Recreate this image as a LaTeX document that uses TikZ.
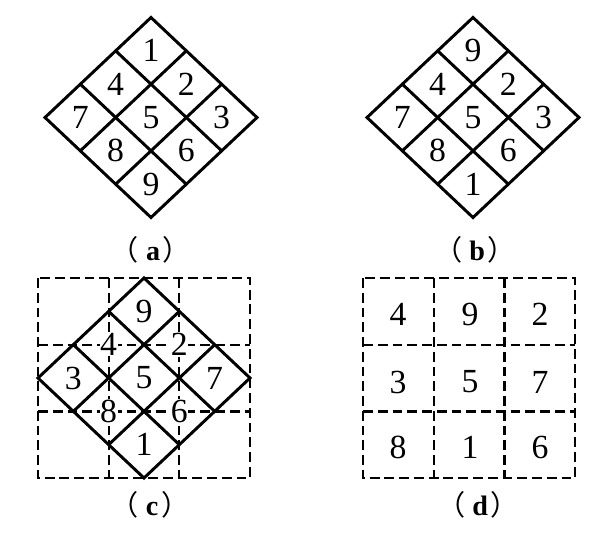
\documentclass[tikz,border=0pt]{standalone}
\usepackage{fontspec}
\setmainfont{Liberation Serif}
\newfontfamily\cjk{Noto Sans CJK SC}
\begin{document}
\begin{tikzpicture}[x=0.25mm, y=-0.25mm,
    solidline/.style={line width=2.1pt, line join=miter},
    dashline/.style={line width=1.7pt, dash pattern=on 7pt off 3.5pt},
    cell/.style={fill=white, inner sep=0.5pt, font=\fontsize{24}{28}\selectfont},
    caption/.style={font=\fontsize{20}{24}\selectfont\bfseries}]
    \useasboundingbox (0,0) rectangle (605,548);

    % dashed squares (c) and (d)
    \foreach \x in {38,363} {
        \draw [dashline] (\x,278) rectangle (\x+212,478);
        \draw [dashline] (\x+70.7,278) -- (\x+70.7,478);
        \draw [dashline] (\x+141.3,278) -- (\x+141.3,478);
        \draw [dashline] (\x,344.7) -- (\x+212,344.7);
        \draw [dashline] (\x,411.3) -- (\x+212,411.3);
    }

    % diamonds (a), (b) and (c)
    \foreach \cx/\cy in {151/117.5, 473/117.5, 144/378} {
        \draw [solidline] (\cx,\cy-100) -- (\cx+106,\cy) -- (\cx,\cy+100) -- (\cx-106,\cy) -- cycle;
        \foreach \k in {1,2} {
            \draw [solidline] (\cx-\k*106/3,\cy-100+\k*100/3) -- ++(106,100);
            \draw [solidline] (\cx+\k*106/3,\cy-100+\k*100/3) -- ++(-106,100);
        }
    }

    % numbers (a)
    \foreach \n/\i/\j in {1/0/0, 4/1/0, 2/0/1, 7/2/0, 5/1/1, 3/0/2, 8/2/1, 6/1/2, 9/2/2} {
        \node [cell] (a\n) at (151+\j*106/3-\i*106/3, 17.5+\i*100/3+\j*100/3+100/3) {\n};
    }
    % numbers (b)
    \foreach \n/\i/\j in {9/0/0, 4/1/0, 2/0/1, 7/2/0, 5/1/1, 3/0/2, 8/2/1, 6/1/2, 1/2/2} {
        \node [cell] (b\n) at (473+\j*106/3-\i*106/3, 17.5+\i*100/3+\j*100/3+100/3) {\n};
    }
    % numbers (c)
    \foreach \n/\i/\j in {9/0/0, 4/1/0, 2/0/1, 3/2/0, 5/1/1, 7/0/2, 8/2/1, 6/1/2, 1/2/2} {
        \node [cell] (c\n) at (144+\j*106/3-\i*106/3, 278+\i*100/3+\j*100/3+100/3) {\n};
    }
    % numbers (d)
    \foreach \n/\x/\y in {4/398/314, 9/470/314, 2/540/314, 3/398/382, 5/470/382, 7/540/382, 8/398/447, 1/470/447, 6/540/447} {
        \node [cell] (d\n) at (\x,\y) {\n};
    }

    \node [caption] (capa) at (151,250) {{\mdseries\cjk（}\hspace{5pt}a\hspace{2pt}{\mdseries\cjk）}};
    \node [caption] (capb) at (475,250) {{\mdseries\cjk（}\hspace{5pt}b\hspace{2pt}{\mdseries\cjk）}};
    \node [caption] (capc) at (150,505) {{\mdseries\cjk（}\hspace{5pt}c\hspace{2pt}{\mdseries\cjk）}};
    \node [caption] (capd) at (478,505) {{\mdseries\cjk（}\hspace{5pt}d\hspace{2pt}{\mdseries\cjk）}};
\end{tikzpicture}
\end{document}
